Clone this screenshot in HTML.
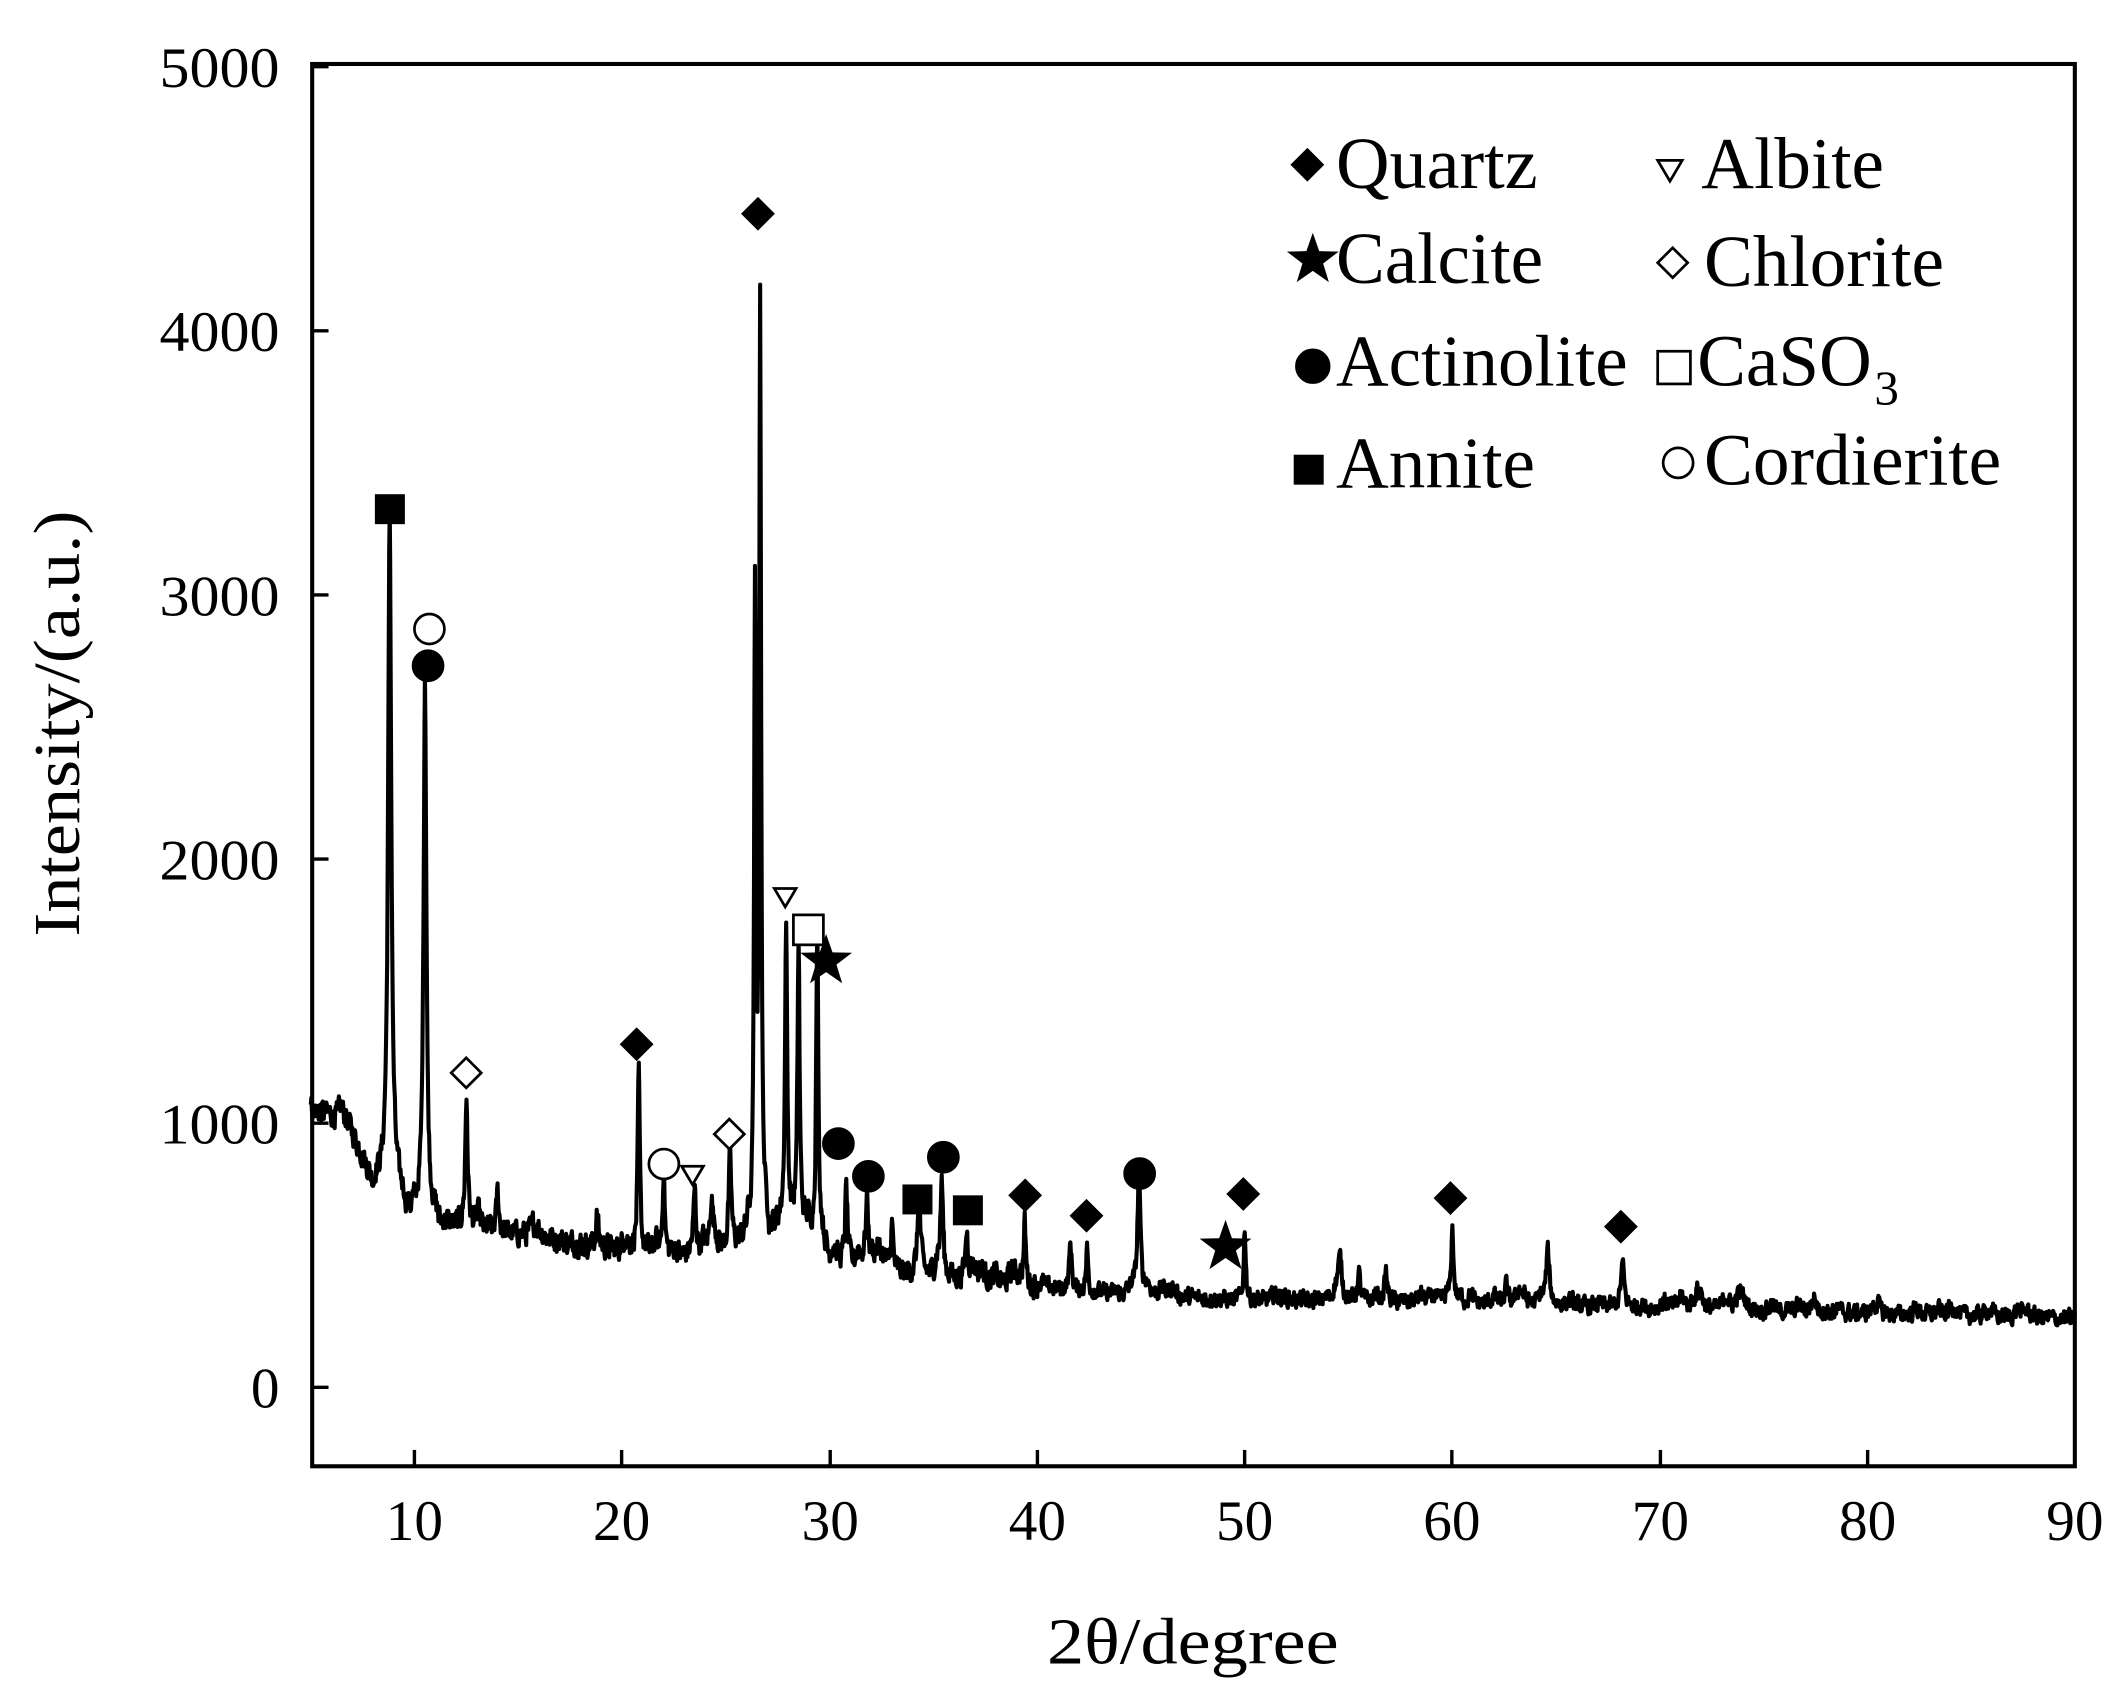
<!DOCTYPE html>
<html><head><meta charset="utf-8"><style>
html,body{margin:0;padding:0;background:#fff;}
svg{display:block;}
text{font-family:"Liberation Serif",serif;fill:#000;}
</style></head><body>
<svg id="s" width="2128" height="1695" viewBox="0 0 1561 1245" preserveAspectRatio="none" xmlns="http://www.w3.org/2000/svg">
<rect x="229" y="47" width="1293" height="1030" fill="none" stroke="#000" stroke-width="3"/>
<g stroke="#000" stroke-width="2.5">
<line x1="229" y1="49" x2="241" y2="49"/><line x1="229" y1="243" x2="241" y2="243"/>
<line x1="229" y1="437" x2="241" y2="437"/><line x1="229" y1="631" x2="241" y2="631"/>
<line x1="229" y1="825" x2="241" y2="825"/><line x1="229" y1="1019" x2="241" y2="1019"/>
<line x1="304" y1="1077" x2="304" y2="1065"/><line x1="456" y1="1077" x2="456" y2="1065"/>
<line x1="609" y1="1077" x2="609" y2="1065"/><line x1="761" y1="1077" x2="761" y2="1065"/>
<line x1="913" y1="1077" x2="913" y2="1065"/><line x1="1065" y1="1077" x2="1065" y2="1065"/>
<line x1="1218" y1="1077" x2="1218" y2="1065"/><line x1="1370" y1="1077" x2="1370" y2="1065"/>
</g>
<g font-size="42" text-anchor="end">
<text x="205" y="64" textLength="88" lengthAdjust="spacingAndGlyphs">5000</text><text x="205" y="258" textLength="88" lengthAdjust="spacingAndGlyphs">4000</text>
<text x="205" y="452" textLength="88" lengthAdjust="spacingAndGlyphs">3000</text><text x="205" y="646" textLength="88" lengthAdjust="spacingAndGlyphs">2000</text>
<text x="205" y="840" textLength="88" lengthAdjust="spacingAndGlyphs">1000</text><text x="205" y="1034">0</text>
</g>
<g font-size="42" text-anchor="middle">
<text x="304" y="1131">10</text><text x="456" y="1131">20</text><text x="609" y="1131">30</text>
<text x="761" y="1131">40</text><text x="913" y="1131">50</text><text x="1065" y="1131">60</text>
<text x="1218" y="1131">70</text><text x="1370" y="1131">80</text><text x="1522" y="1131">90</text>
</g>
<text x="768" y="1222" font-size="48" textLength="214" lengthAdjust="spacingAndGlyphs">2θ/degree</text>
<text transform="translate(58,688) rotate(-90)" font-size="48" textLength="313" lengthAdjust="spacingAndGlyphs">Intensity/(a.u.)</text>
<path id="d" fill="none" stroke="#000" stroke-width="3" stroke-linejoin="round"/>
<g font-size="54">
<text x="980" y="138" textLength="148" lengthAdjust="spacingAndGlyphs">Quartz</text>
<text x="1248" y="138" textLength="134" lengthAdjust="spacingAndGlyphs">Albite</text>
<text x="980" y="208" textLength="152" lengthAdjust="spacingAndGlyphs">Calcite</text>
<text x="1250" y="210" textLength="176" lengthAdjust="spacingAndGlyphs">Chlorite</text>
<text x="980" y="283" textLength="214" lengthAdjust="spacingAndGlyphs">Actinolite</text>
<text x="1245" y="283" textLength="128" lengthAdjust="spacingAndGlyphs">CaSO</text><text x="1375" y="297" font-size="36">3</text>
<text x="980" y="358" textLength="146" lengthAdjust="spacingAndGlyphs">Annite</text>
<text x="1250" y="356" textLength="218" lengthAdjust="spacingAndGlyphs">Cordierite</text>
</g>
<g id="m"></g>
</svg>
<script>
var Y=function(v){return 1019-v*0.194;},X=function(t){return 228+(t-5)*15.225;};
var bt=[[5,1060],[6,1030],[7,960],[8,790],[9,760],[10,680],[12,620],[15,580],[20,520],[23,500],[25,520],[26,560],[27,620],[28,640],[29,600],[30,480],[33,440],[36,420],[40,380],[45,350],[50,330],[55,330],[60,320],[65,310],[70,300],[80,280],[90,260]];
function base(t){for(var i=0;i<bt.length-1;i++){if(t<=bt[i+1][0]){var f=(t-bt[i][0])/(bt[i+1][0]-bt[i][0]);return bt[i][1]+f*(bt[i+1][1]-bt[i][1]);}}return 260;}
var pk=[[8.8,2550,.09],[10.5,2050,.08],[12.5,480,.07],[14,150,.07],[18.8,120,.07],[20.8,680,.06],[22,320,.06],[23.5,200,.06],[24.3,180,.08],[25.2,330,.07],[26.4,2300,.05],[26.65,3450,.05],[27.9,1150,.06],[28.5,1080,.06],[29.4,1150,.06],[30.8,280,.07],[31.8,230,.07],[33,170,.07],[34.3,250,.07],[35.4,360,.07],[36.6,170,.07],[39.4,230,.06],[41.6,180,.07],[42.4,160,.06],[44.9,460,.08],[50,270,.06],[54.6,130,.1],[55.5,100,.08],[56.8,110,.08],[60,270,.07],[62.6,70,.08],[64.6,200,.1],[68.2,160,.1],[71.8,50,.1]];
var s=12345;function r(){s=(s*1103515245+12345)%2147483648;return s/2147483648;}
for(var i=0;i<90;i++){var c=6+r()*82;pk.push([c,(20+r()*40)*(c<40?1:0.6),0.1+r()*0.08]);}
var d="",n=0,prev=0;
for(var t=5;t<=90.001;t+=0.025){prev=0.4*prev+(r()-0.5);var v=base(t)+prev*80*(t<40?1:0.7);
for(var k=0;k<pk.length;k++){var p=pk[k],z=(t-p[0])/p[2];if(Math.abs(z)<8)v+=p[1]/(1+z*z);}
d+=(n++?"L":"M")+X(t).toFixed(1)+" "+Y(v).toFixed(1);}
document.getElementById("d").setAttribute("d",d);
var g=document.getElementById("m"),h="";
function dia(x,y,sz,f){h+='<polygon points="'+x+','+(y-sz)+' '+(x+sz)+','+y+' '+x+','+(y+sz)+' '+(x-sz)+','+y+'" fill="'+(f?"#000":"#fff")+'" stroke="#000" stroke-width="2"/>';}
function cir(x,y,rr,f){h+='<circle cx="'+x+'" cy="'+y+'" r="'+rr+'" fill="'+(f?"#000":"#fff")+'" stroke="#000" stroke-width="2"/>';}
function sq(x,y,a,f){h+='<rect x="'+(x-a)+'" y="'+(y-a)+'" width="'+(2*a)+'" height="'+(2*a)+'" fill="'+(f?"#000":"#fff")+'" stroke="#000" stroke-width="2"/>';}
function tri(x,y,a){h+='<polygon points="'+(x-a)+','+(y-a*0.8)+' '+(x+a)+','+(y-a*0.8)+' '+x+','+(y+a*0.9)+'" fill="#fff" stroke="#000" stroke-width="2"/>';}
function star(x,y,R){var p=[];for(var i=0;i<10;i++){var a=-Math.PI/2+i*Math.PI/5,rr=i%2?R*0.4:R;p.push((x+rr*Math.cos(a)).toFixed(1)+","+(y+rr*Math.sin(a)).toFixed(1));}h+='<polygon points="'+p.join(" ")+'" fill="#000"/>';}
dia(959,121,11,1);tri(1225,125,9);star(963,191,20);dia(1227,193,11,0);cir(963,269,12,1);sq(1228,270,12,0);sq(960,345,10,1);cir(1231,340,11,0);
sq(286,374,10,1);cir(315,462,11,0);cir(314,489,11,1);dia(342,788,11,0);dia(467,767,11,1);cir(487,855,11,0);tri(508,863,8);dia(535,833,11,0);dia(556,157,11,1);tri(576,659,8);sq(593,683,11,0);star(606,706,20);cir(615,840,11,1);cir(637,864,11,1);cir(692,850,11,1);sq(673,881,10,1);sq(710,889,10,1);dia(752,878,11,1);dia(797,893,11,1);cir(836,862,11,1);star(899,916,20);dia(912,877,11,1);dia(1064,880,11,1);dia(1189,901,11,1);
g.innerHTML=h;
</script>
</body></html>
